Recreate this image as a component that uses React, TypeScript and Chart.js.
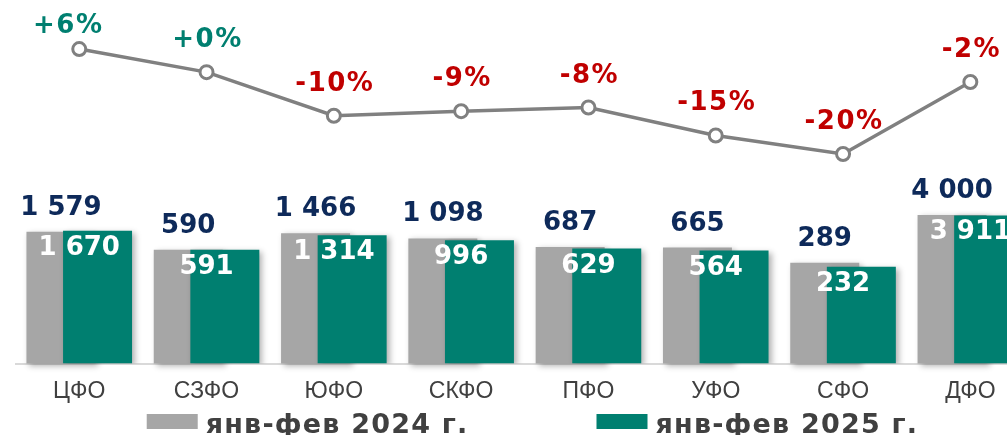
import React, { useEffect, useRef } from "react";
import { Chart, registerables } from "chart.js";

Chart.register(...registerables);

const categories = ["ЦФО", "СЗФО", "ЮФО", "СКФО", "ПФО", "УФО", "СФО", "ДФО"];
const values2024 = [1579, 590, 1466, 1098, 687, 665, 289, 4000];
const values2025 = [1670, 591, 1314, 996, 629, 564, 232, 3911];
const changePct = [5.8, 0.2, -10.4, -9.3, -8.4, -15.2, -19.7, -2.2];
const changeLabels = ["+6%", "+0%", "-10%", "-9%", "-8%", "-15%", "-20%", "-2%"];
const seriesNames = ["янв-фев 2024 г.", "янв-фев 2025 г."];

const GRAY = "#a6a6a6";
const TEAL = "#007f70";
const NAVY = "#0e2a5a";
const RED = "#c00000";
const LINE = "#808080";
const TEXT = "#404040";

const CANVAS_W = 1065;
const CANVAS_H = 435;

const fmt = (v: number) => String(v).replace(/\B(?=(\d{3})+(?!\d))/g, " ");

const applyShadow = (ctx: CanvasRenderingContext2D) => {
  ctx.shadowColor = "rgba(0,0,0,0.3)";
  ctx.shadowBlur = 6;
  ctx.shadowOffsetX = 3;
  ctx.shadowOffsetY = 2;
};

const barLayer = {
  id: "barLayer",
  beforeDatasetsDraw(chart: any) {
    const ctx = chart.ctx;
    ctx.save();
    applyShadow(ctx);
    chart.getDatasetMeta(0).data.forEach((el: any) => el.draw(ctx));
    ctx.restore();
  },
  beforeDatasetDraw(chart: any, args: any) {
    if (args.index === 0) return false;
    if (args.index === 1) {
      chart.ctx.save();
      applyShadow(chart.ctx);
    }
  },
  afterDatasetDraw(chart: any, args: any) {
    if (args.index === 1) chart.ctx.restore();
  },
};

// the first change label sits a little lower and left of the others in the source
const firstLabelNudge = { dx: -12, dy: 9 };

const labelLayer = {
  id: "labelLayer",
  afterDraw(chart: any) {
    const ctx: any = chart.ctx;
    const xs = chart.scales.x;
    ctx.save();
    ctx.font = "bold 26px 'DejaVu Sans'";
    ctx.textAlign = "center";
    ctx.textBaseline = "alphabetic";
    chart.getDatasetMeta(0).data.forEach((el: any, i: number) => {
      ctx.fillStyle = NAVY;
      ctx.fillText(fmt(values2024[i]), el.x, el.y - 17);
    });
    chart.getDatasetMeta(1).data.forEach((el: any, i: number) => {
      ctx.fillStyle = "#ffffff";
      ctx.fillText(fmt(values2025[i]), xs.getPixelForValue(i), el.y + 24);
    });
    ctx.letterSpacing = "1.5px";
    chart.getDatasetMeta(2).data.forEach((el: any, i: number) => {
      ctx.fillStyle = changePct[i] >= 0 ? TEAL : RED;
      const dx = i === 0 ? firstLabelNudge.dx : 0;
      const dy = i === 0 ? firstLabelNudge.dy : 0;
      ctx.fillText(changeLabels[i], el.x + 1 + dx, el.y - 25 + dy);
    });

    // legend
    ctx.font = "bold 27px 'DejaVu Sans'";
    ctx.letterSpacing = "1.2px";
    ctx.textAlign = "left";
    const boxW = 51, boxH = 15, gapBT = 8, gapItems = 128;
    const w1 = ctx.measureText(seriesNames[0]).width;
    const w2 = ctx.measureText(seriesNames[1]).width;
    const total = boxW + gapBT + w1 + gapItems + boxW + gapBT + w2;
    let x = chart.width / 2 - total / 2;
    const baseY = 432.7;
    const boxY = 414;
    const colors = [GRAY, TEAL];
    const widths = [w1, w2];
    for (let i = 0; i < 2; i++) {
      ctx.fillStyle = colors[i];
      ctx.fillRect(x, boxY, boxW, boxH);
      x += boxW + gapBT;
      ctx.fillStyle = TEXT;
      ctx.fillText(seriesNames[i], x, baseY);
      x += widths[i] + gapItems;
    }
    ctx.restore();
  },
};

export default function App() {
  const ref = useRef<HTMLCanvasElement | null>(null);

  useEffect(() => {
    if (!ref.current) return;
    const chart = new Chart(ref.current, {
      type: "bar",
      data: {
        labels: categories,
        datasets: [
          {
            type: "bar",
            label: seriesNames[0],
            data: values2024,
            backgroundColor: GRAY,
            order: 1,
            yAxisID: "y",
            categoryPercentage: 0.575,
            barPercentage: 1.885,
          },
          {
            type: "bar",
            label: seriesNames[1],
            data: values2025,
            backgroundColor: TEAL,
            order: 2,
            yAxisID: "y",
            categoryPercentage: 0.575,
            barPercentage: 1.885,
          },
          {
            type: "line",
            label: "change",
            data: changePct,
            borderColor: LINE,
            borderWidth: 3.5,
            pointRadius: 6.5,
            pointBorderWidth: 3,
            pointBackgroundColor: "#ffffff",
            pointBorderColor: LINE,
            order: 0,
            yAxisID: "y1",
            tension: 0,
          } as any,
        ],
      },
      options: {
        responsive: false,
        animation: false,
        devicePixelRatio: 1,
        layout: { padding: { left: 15.6, right: 31, top: 20, bottom: 0 } },
        plugins: {
          legend: { display: false },
          tooltip: { enabled: false },
        },
        scales: {
          x: {
            grid: { display: false, drawTicks: false },
            border: { display: true, color: "#d9d9d9", width: 2 },
            ticks: {
              color: TEXT,
              font: { family: "'Liberation Sans'", size: 23 },
              padding: 14,
              maxRotation: 0,
              autoSkip: false,
            },
            afterFit: (scale: any) => {
              scale.height = CANVAS_H - 363.5;
            },
          },
          y: {
            type: "logarithmic",
            display: false,
            min: 1.12,
            max: 1.85e8,
            bounds: "data",
          },
          y1: {
            type: "linear",
            display: false,
            min: -70.62,
            max: 12.87,
            bounds: "data",
          },
        },
      } as any,
      plugins: [barLayer, labelLayer],
    });
    return () => chart.destroy();
  }, []);

  return (
    <div
      style={{
        position: "absolute",
        left: 0,
        top: 0,
        width: 1007,
        height: 435,
        overflow: "hidden",
        background: "#ffffff",
      }}
    >
      <canvas
        ref={ref}
        width={CANVAS_W}
        height={CANVAS_H}
        style={{ width: CANVAS_W, height: CANVAS_H, display: "block" }}
      />
    </div>
  );
}
